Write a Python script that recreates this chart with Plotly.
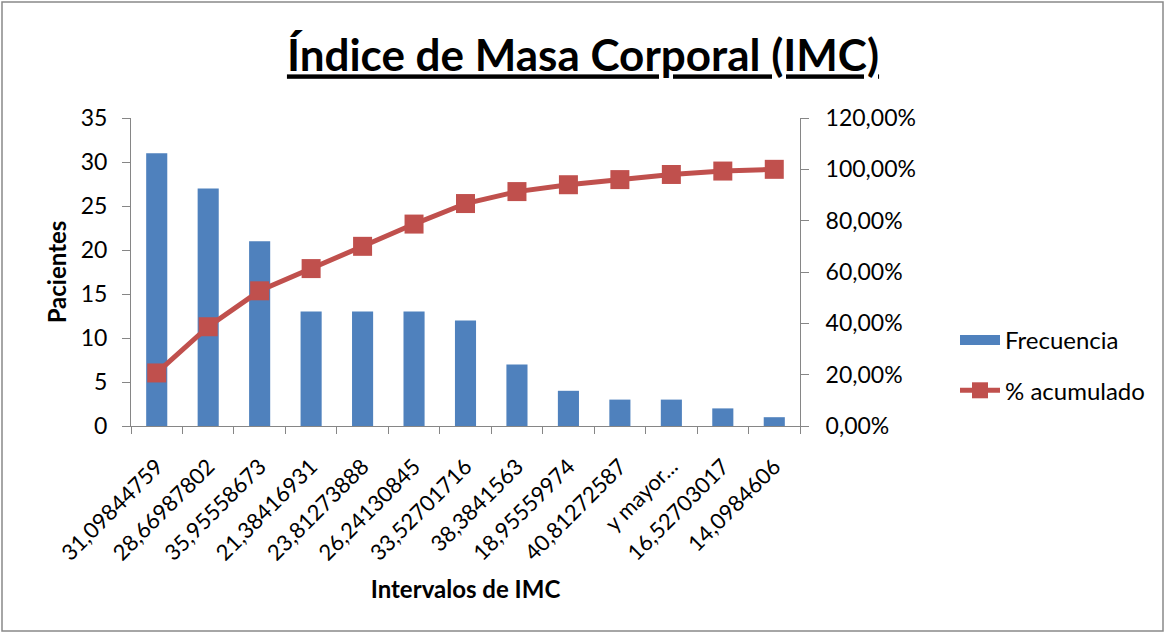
import plotly.graph_objects as go

categories = ["31,09844759", "28,66987802", "35,95558673", "21,38416931", "23,81273888",
              "26,24130845", "33,52701716", "38,3841563", "18,95559974", "40,81272587",
              "y mayor...", "16,52703017", "14,0984606"]
frecuencia = [31, 27, 21, 13, 13, 13, 12, 7, 4, 3, 3, 2, 1]
acumulado = [0.2067, 0.3867, 0.5267, 0.6133, 0.7000, 0.7867, 0.8667, 0.9133,
             0.9400, 0.9600, 0.9800, 0.9933, 1.0000]

FONT = "Lato"
AXIS_COLOR = "#868686"
BAR_COLOR = "#4F81BD"
LINE_COLOR = "#C0504D"

L, R, T, B = 131, 800, 118, 426
W, H = 1166, 634
pw, ph = R - L, B - T

def px(x):
    return (x - L) / pw

def py(y):
    return (B - y) / ph

fig = go.Figure()
fig.add_trace(go.Bar(x=categories, y=frecuencia, name="Frecuencia", showlegend=False,
                     marker=dict(color=BAR_COLOR, line=dict(width=0)), width=0.41))
# legend proxy so the bar key is drawn as a wide rectangle, as in the original
fig.add_trace(go.Scatter(x=[None], y=[None], name="Frecuencia", legendgroup="a",
                         mode="lines", line=dict(color=BAR_COLOR, width=15)))
fig.add_trace(go.Scatter(x=categories, y=acumulado, name="% acumulado", yaxis="y2",
                         legendgroup="b", mode="lines+markers",
                         line=dict(color=LINE_COLOR, width=5),
                         marker=dict(symbol="square", size=19, color=LINE_COLOR)))

fig.update_layout(
    width=W, height=H,
    margin=dict(l=L, r=W - R, t=T, b=H - B),
    paper_bgcolor="white", plot_bgcolor="white",
    separators=",.",
    font=dict(family=FONT, color="black", size=22),
    title=dict(text="<b><u>Índice de Masa Corporal (IMC)</u></b>", x=0.5, xanchor="center",
               y=1 - 56 / H, yanchor="middle", font=dict(size=44, family=FONT)),
    xaxis=dict(type="category", showline=True, linecolor=AXIS_COLOR, linewidth=1,
               ticks="outside", tickson="boundaries", ticklen=7, tickcolor=AXIS_COLOR,
               tickangle=-45, tickfont=dict(size=22), showgrid=False,
               ticklabelstandoff=18,
               title=dict(text="<b>Intervalos de IMC</b>", font=dict(size=24), standoff=16),
               range=[-0.5, 12.5]),
    yaxis=dict(range=[0, 35], dtick=5, showline=True, linecolor=AXIS_COLOR, linewidth=1,
               ticks="outside", ticklen=8, tickcolor=AXIS_COLOR, showgrid=False,
               zeroline=False, tickfont=dict(size=23), ticklabelstandoff=10,
               title=dict(text="<b>Pacientes</b>", font=dict(size=24), standoff=7)),
    yaxis2=dict(range=[0, 1.2], dtick=0.2, overlaying="y", side="right",
                tickformat=".2%", showline=True, linecolor=AXIS_COLOR, linewidth=1,
                ticks="outside", ticklen=8, tickcolor=AXIS_COLOR, showgrid=False,
                zeroline=False, tickfont=dict(size=23), ticklabelstandoff=12),
    legend=dict(x=px(955), y=py(318), xanchor="left", yanchor="top",
                font=dict(size=24), bgcolor="rgba(0,0,0,0)", traceorder="grouped",
                tracegroupgap=16, itemwidth=40),
    showlegend=True,
)

fig.add_shape(type="rect", xref="paper", yref="paper",
              x0=px(2), x1=px(1163), y0=py(631), y1=py(2),
              line=dict(color="#898989", width=1.5), fillcolor="rgba(0,0,0,0)", layer="below")

fig.write_html("out.html", config={"displayModeBar": False},
               post_script="document.body.style.margin='0';")
